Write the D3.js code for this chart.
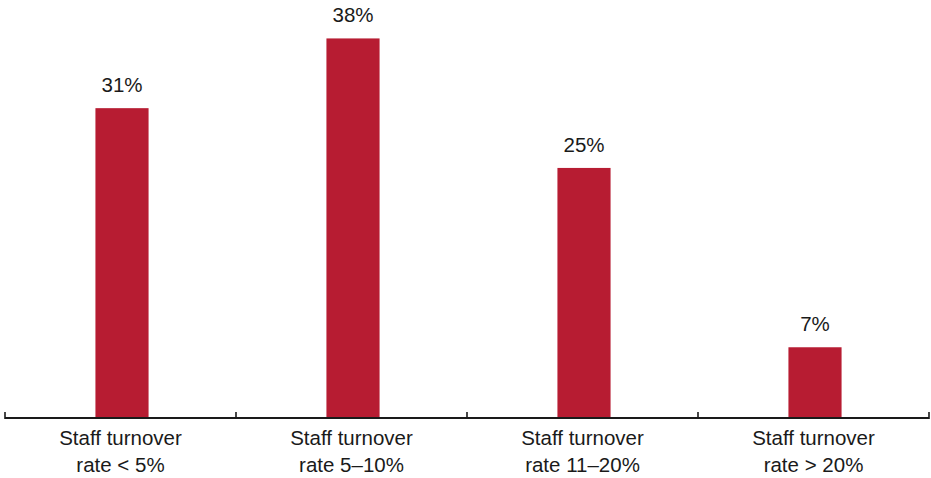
<!DOCTYPE html>
<html>
<head>
<meta charset="utf-8">
<script src="https://cdn.jsdelivr.net/npm/d3@7"></script>
<style>
  html, body { margin: 0; padding: 0; background: #fff; }
  svg { display: block; }
  text { font-family: "Liberation Sans", Arial, Helvetica, sans-serif; fill: #1a1a1a; }
</style>
</head>
<body>
<svg id="chart" width="931" height="478"></svg>
<script>
// Share of respondents by staff turnover band
const categories = [
  ["Staff turnover", "rate < 5%"],
  ["Staff turnover", "rate 5\u201310%"],
  ["Staff turnover", "rate 11\u201320%"],
  ["Staff turnover", "rate > 20%"]
];
const values = [31, 38, 25, 7];
const valueLabels = ["31%", "38%", "25%", "7%"];

const svg = d3.select("#chart");
const W = 931, H = 478;
const margin = { left: 5, right: 2, top: 18.5, bottom: 61 };
const baseY = H - margin.bottom;

const keys = categories.map((c, i) => i);

// Band scale for the axis segments (no padding, ticks sit on the band edges)
const xAxisScale = d3.scaleBand()
  .domain(keys)
  .range([margin.left, W - margin.right])
  .padding(0);

// Band scale for the bars themselves (narrow bars centred in each segment)
const xBar = d3.scaleBand()
  .domain(keys)
  .range([margin.left + 1.5, W - margin.right + 1.5])
  .paddingInner(0.77)
  .paddingOuter(0.385);

const y = d3.scaleLinear()
  .domain([0, 40])
  .range([baseY, margin.top]);

// Bars
svg.append("g")
  .selectAll("rect")
  .data(values)
  .join("rect")
  .attr("x", (d, i) => xBar(i))
  .attr("width", xBar.bandwidth())
  .attr("y", d => y(d))
  .attr("height", d => baseY - y(d))
  .attr("fill", "#b71c32");

// Value labels
svg.append("g")
  .selectAll("text")
  .data(values)
  .join("text")
  .attr("x", (d, i) => xBar(i) + xBar.bandwidth() / 2)
  .attr("y", d => y(d) - 16)
  .attr("text-anchor", "middle")
  .style("font-size", "20.5px")
  .text((d, i) => valueLabels[i]);

// Axis line with ticks at the segment boundaries
const axisG = svg.append("g").attr("transform", `translate(0,${baseY + 1})`);
axisG.append("line")
  .attr("x1", margin.left).attr("x2", W - margin.right)
  .attr("y1", 0).attr("y2", 0)
  .attr("stroke", "#1a1a1a").attr("stroke-width", 2);
const edges = keys.map(k => xAxisScale(k)).concat([xAxisScale(keys[keys.length - 1]) + xAxisScale.bandwidth()]);
axisG.selectAll("line.tick")
  .data(edges)
  .join("line")
  .attr("class", "tick")
  .attr("x1", d => d).attr("x2", d => d)
  .attr("y1", -6).attr("y2", 1)
  .attr("stroke", "#1a1a1a").attr("stroke-width", 1.6);

// Category labels (two lines each)
const catG = svg.append("g")
  .selectAll("text")
  .data(categories)
  .join("text")
  .attr("x", (d, i) => xAxisScale(i) + xAxisScale.bandwidth() / 2)
  .attr("y", baseY + 28)
  .attr("text-anchor", "middle")
  .style("font-size", "20.5px");
catG.selectAll("tspan")
  .data(d => d)
  .join("tspan")
  .attr("x", function () { return d3.select(this.parentNode).attr("x"); })
  .attr("dy", (d, j) => j === 0 ? 0 : 27)
  .text(d => d);
</script>
</body>
</html>
